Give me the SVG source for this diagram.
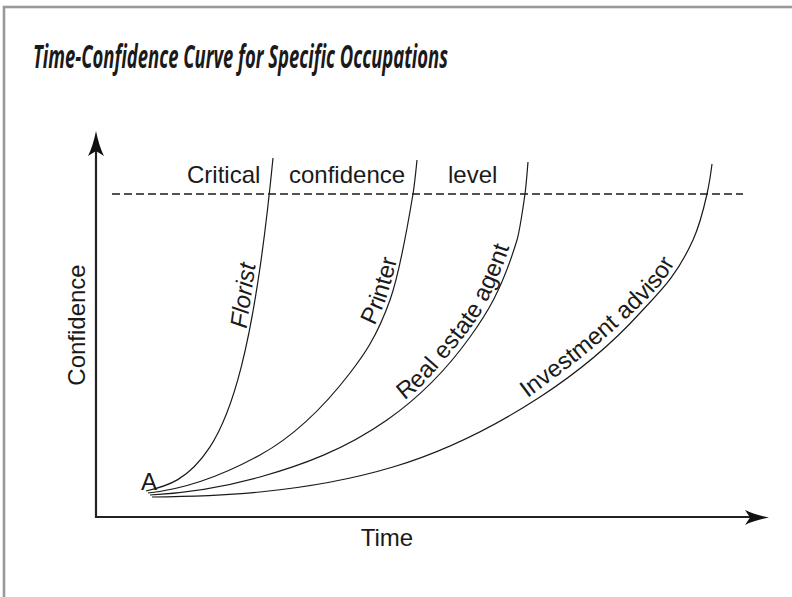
<svg xmlns="http://www.w3.org/2000/svg" width="792" height="597" viewBox="0 0 792 597">
<defs>
<style>
.lbl{font-family:"Liberation Sans",Arial,sans-serif;font-size:24px;fill:#1a1a1a}
.curve{fill:none;stroke:#1a1a1a;stroke-width:1.2}
.axis{fill:none;stroke:#222;stroke-width:2.2}
.ah{fill:#111}
</style>
<path id="lpFlorist" d="M246.5,329 L256,262"/>
<path id="lpPrinter" d="M374.5,326 C378.5,317 383.5,307 386.2,298.8 C390.5,285 396,265 399.1,249.2"/>
<path id="lpReal" d="M404.6,400.4 C408,397.37 414.78,393.25 425,382.2 C435.22,371.15 455.22,348.23 465.9,334.1 C476.58,319.97 481.38,313.33 489.1,297.4 C496.82,281.47 507.05,255.85 512.2,238.5 C517.35,221.15 518.7,200.83 520,193.3"/>
<path id="lpInv" d="M524.4,400.7 C534.8,392.8 568.1,368.4 586.8,353.2 C605.5,338 623.3,322.1 636.5,309.4 C649.7,296.7 657.4,289 666,277.1 C674.6,265.2 684.7,244.5 688.4,238"/>
</defs>
<rect x="0" y="0" width="792" height="597" fill="#fff"/>
<rect x="4" y="7" width="820" height="620" fill="none" stroke="#999" stroke-width="2.6"/>
<text x="33" y="68" font-family="'Open Sans','Liberation Sans',sans-serif" font-size="32" font-weight="700" font-style="italic" fill="#1a1a1a" textLength="415" lengthAdjust="spacingAndGlyphs">Time-Confidence Curve for Specific Occupations</text>

<g id="axes">
<path class="axis" d="M96,150 L96,517 L752,517"/>
<path class="ah" d="M96,131 Q99,146 104,156 L96,151 L88,156 Q93,146 96,131 Z"/>
<path class="ah" d="M769,517.5 Q754,520.5 745,525 L750,517.5 L745,510 Q754,514.5 769,517.5 Z"/>
<text class="lbl" x="387" y="546" text-anchor="middle">Time</text>
<text class="lbl" transform="translate(85,325) rotate(-90)" text-anchor="middle">Confidence</text>
</g>

<g id="critical-level">
<line x1="112" y1="194" x2="743" y2="194" stroke="#1a1a1a" stroke-width="1.6" stroke-dasharray="8,4"/>
<text class="lbl" x="187" y="183">Critical</text>
<text class="lbl" x="289" y="183">confidence</text>
<text class="lbl" x="448" y="183">level</text>
</g>

<g id="point-a">
<text class="lbl" x="141" y="490">A</text>
</g>

<g id="connectors">
<path id="florist" class="curve" d="M146,491 C167.17,486.17 188.33,479.94 209.5,447.68 C220.08,431.54 230.67,408.58 241.25,366.86 C247.6,341.82 253.95,309.91 260.3,265.66 C264.53,236.16 268.77,201.16 273,158"/>
<path id="printer" class="curve" d="M148,493 C185.33,489.27 222.67,475.53 260,455 C290,438.5 320,412 350,373 C363.33,355.67 376.67,337.33 390,300 C397.67,278.53 405.33,240 413,194 C414.33,186 415.67,173.33 417,160"/>
<path id="realestate" class="curve" d="M150,495 C186.67,493.17 223.33,487.27 260,477 C302.33,465.15 344.67,449.63 387,420 C414.67,400.63 442.33,375.73 470,337 C485.67,315.07 501.33,291.7 517,240 C519.67,231.2 522.33,212.67 525,194 C526,187 527,174 528,162"/>
<path id="investment" class="curve" d="M152,497 C188,496.64 224,495.6 260,492 C304.33,487.57 348.67,480.3 393,467 C442,452.3 491,428.85 540,397 C573.33,375.33 606.67,349.67 640,313 C657.67,293.57 675.33,278.87 693,240 C697.67,229.73 702.33,215 707,194 C708.67,186.5 710.33,177.33 712,164"/>
</g>

<g id="label-florist"><text class="lbl" font-style="italic"><textPath href="#lpFlorist">Florist</textPath></text></g>
<g id="label-printer"><text class="lbl"><textPath href="#lpPrinter">Printer</textPath></text></g>
<g id="label-realestate"><text class="lbl"><textPath href="#lpReal">Real estate agent</textPath></text></g>
<g id="label-investment"><text class="lbl"><textPath href="#lpInv" startOffset="4">Investment advisor</textPath></text></g>
</svg>
